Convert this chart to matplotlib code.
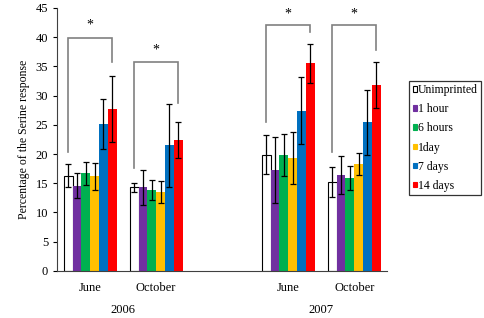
import matplotlib
matplotlib.use("Agg")
import matplotlib.pyplot as plt
import numpy as np
from matplotlib.patches import Patch

plt.rcParams['font.family'] = ['Liberation Serif', 'DejaVu Serif']

groups = ["June", "October", "June", "October"]
years = ["2006", "2007"]
series = ["Unimprinted", "1 hour", "6 hours", "1day", "7 days", "14 days"]
colors = ["white", "#7030A0", "#00B050", "#FFC000", "#0070C0", "#FF0000"]

# values per series across the 4 groups (June06, Oct06, June07, Oct07)
means = [
    [16.3, 14.3, 19.9, 15.2],
    [14.6, 14.3, 17.3, 16.4],
    [16.7, 13.9, 19.8, 15.9],
    [16.2, 13.5, 19.3, 18.3],
    [25.1, 21.5, 27.4, 25.4],
    [27.7, 22.4, 35.5, 31.8],
]
errs = [
    [2.0, 0.8, 3.3, 2.6],
    [2.2, 3.0, 5.6, 3.2],
    [2.0, 1.7, 3.6, 2.1],
    [2.3, 1.9, 4.5, 1.9],
    [4.3, 7.1, 5.7, 5.6],
    [5.7, 3.0, 3.4, 4.0],
]
# significance brackets: (left foot, top, right foot, star y)
brackets = [
    (20.4, 39.9, 35.8, 42.0),
    (17.6, 35.8, 28.7, 37.8),
    (25.5, 42.1, 40.9, 44.0),
    (20.3, 42.1, 37.8, 44.0),
]

pos = np.array([0, 1, 3, 4])
w = 0.8 / 6

fig = plt.figure(figsize=(4.84, 3.18), dpi=100)
ax = fig.add_axes([0.118, 0.148, 0.682, 0.827])

for i, (s, c) in enumerate(zip(series, colors)):
    x = pos + (i - 2.5) * w
    ax.bar(x, means[i], w, color=c,
           edgecolor="black" if c == "white" else c,
           linewidth=0.8 if c == "white" else 0)
    ax.errorbar(x, means[i], yerr=errs[i], fmt="none", ecolor="black",
                elinewidth=0.9, capsize=2.5, capthick=0.9)

for p, (yl, yt, yr, ys) in zip(pos, brackets):
    xl = p - 2.5 * w
    xr = p + 2.5 * w
    ax.plot([xl, xl, xr, xr], [yl, yt, yt, yr], color="#808080", lw=1.2,
            solid_joinstyle="miter")
    ax.text(p, ys, "*", ha="center", va="center", fontsize=10)

ax.set_xlim(-0.5, 4.5)
ax.set_ylim(0, 45)
ax.set_yticks(range(0, 46, 5))
ax.tick_params(axis="y", labelsize=9, length=3, direction="out")
ax.set_xticks(pos)
ax.set_xticklabels(groups, fontsize=9)
ax.tick_params(axis="x", length=0, pad=8)
for sp in ["top", "right"]:
    ax.spines[sp].set_visible(False)
ax.spines["left"].set_color("#404040")
ax.spines["bottom"].set_color("#404040")
ax.set_ylabel("Percentage of the Serine response", fontsize=8.5)

for k, yr in enumerate(years):
    ax.text(pos[2 * k:2 * k + 2].mean(), -0.15, yr, transform=ax.get_xaxis_transform(),
            ha="center", va="center", fontsize=9)

handles = [Patch(facecolor=c, edgecolor="black" if c == "white" else c, linewidth=0.8)
           for c in colors]
leg = fig.legend(handles, series, loc="upper left", bbox_to_anchor=(0.845, 0.746),
                 fontsize=8.5, frameon=True, fancybox=False, edgecolor="black",
                 handlelength=0.35, handleheight=0.35, handletextpad=0.1,
                 labelspacing=0.6, borderpad=0.3, borderaxespad=0)
leg.get_frame().set_linewidth(0.9)

fig.savefig("out.png", dpi=100)
